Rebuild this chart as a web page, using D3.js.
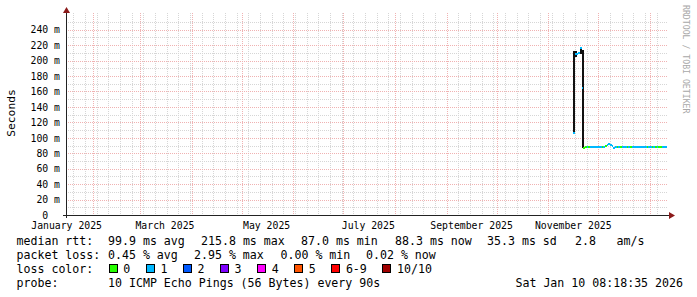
<!DOCTYPE html>
<html>
<head>
<meta charset="utf-8">
<script src="https://cdn.jsdelivr.net/npm/d3@7/dist/d3.min.js"></script>
<style>
  body { margin: 0; background: #fff; }
  svg text { font-family: "DejaVu Sans Mono", monospace; white-space: pre; fill: #000; }
</style>
</head>
<body>
<svg id="chart" width="697" height="297"></svg>
<script>
// time window of the graph (360 days)
const startTime = new Date(Date.UTC(2025, 0, 15, 15));
const endTime = new Date(Date.UTC(2026, 0, 10, 15));

// daily median rtt in ms, first value is 2025-11-16
const firstDay = new Date(Date.UTC(2025, 10, 16));
const medianMs = [106, 209, 208, 210, 215.8, 165, 87.3, 87.6, 87.8, 88.0,
  88.2, 88.2, 88.3, 88.2, 88.3, 88.3, 88.4, 88.3, 88.5, 89.5,
  91.0, 92.0, 90.8, 89.0, 87.0, 88.0, 88.3, 88.3, 88.3, 88.3,
  88.4, 88.3, 88.3, 88.3, 88.2, 88.3, 88.3, 88.3, 88.2, 88.3,
  88.3, 88.3, 88.3, 88.3, 88.3, 88.3, 88.3, 88.2, 88.3, 88.3,
  88.3, 88.1, 88.3, 88.3, 88.0, 88.3];
// lost pings (of 10) for each day
const lossCount = [1, 1, 1, 1, 1, 1, 0, 0, 1, 0,
  1, 1, 1, 1, 1, 1, 1, 0, 1, 0,
  1, 1, 1, 1, 1, 1, 0, 1, 0, 1,
  1, 1, 0, 1, 0, 1, 1, 1, 1, 1,
  1, 1, 1, 1, 0, 1, 1, 0, 1, 0,
  1, 0, 0, 1, 1, 1];
// smoke (ping spread) where it shows, null elsewhere
const smokeLo = [106, 205, null, null, 208, 87];
const smokeHi = [212, 212, null, null, 216, 214];

const yTicks = [0, 20, 40, 60, 80, 100, 120, 140, 160, 180, 200, 220, 240];
const yTickLabels = ["0", "20 m", "40 m", "60 m", "80 m", "100 m", "120 m", "140 m",
  "160 m", "180 m", "200 m", "220 m", "240 m"];
const monthLabels = ["January 2025", "March 2025", "May 2025", "July 2025",
  "September 2025", "November 2025"];

const lossNames = ["0", "1", "2", "3", "4", "5", "6-9", "10/10"];
const lossColors = ["#26ff00", "#00b8ff", "#0059ff", "#7e00ff", "#ff00ff", "#ff5500", "#ff0000", "#a00000"];

const rttLegend = ["median rtt:", "99.9 ms avg", "215.8 ms max", "87.0 ms min", "88.3 ms now", "35.3 ms sd", "2.8", "am/s"];
const lossLegend = ["packet loss:", "0.45 % avg", "2.95 % max", "0.00 % min", "0.02 % now"];
const probeLegend = ["probe:", "10 ICMP Echo Pings (56 Bytes) every 90s"];
const stampText = "Sat Jan 10 08:18:35 2026";
const watermark = "RRDTOOL / TOBI OETIKER";

// layout
const rttX = [16.5, 108, 201, 301, 395, 487, 575, 616.5];
const lossX = [16.5, 108, 194, 280.5, 366];
const charW = 7.0;
const axisCharW = 5.9;

const svg = d3.select("#chart");

const x = d3.scaleUtc().domain([startTime, endTime]).range([66, 666]);
const y = d3.scaleLinear().domain([0, 261.7]).range([215, 13]);
const px = v => Math.round(v) + 0.5;

// grid
const grid = svg.append("g").attr("shape-rendering", "crispEdges")
  .attr("stroke-width", 1).attr("stroke-dasharray", "1,1").attr("fill", "none");

grid.selectAll("line.minh")
  .data(d3.range(10, 261, 20))
  .enter().append("line")
  .attr("x1", 66).attr("x2", 668)
  .attr("y1", d => px(y(d))).attr("y2", d => px(y(d)))
  .attr("stroke", "#d6d6d6");

grid.selectAll("line.minv")
  .data(d3.utcMonday.range(startTime, endTime))
  .enter().append("line")
  .attr("x1", d => px(x(d))).attr("x2", d => px(x(d)))
  .attr("y1", 13).attr("y2", 215)
  .attr("stroke", "#d6d6d6");

grid.selectAll("line.majh")
  .data(yTicks.slice(1))
  .enter().append("line")
  .attr("x1", 66).attr("x2", 668)
  .attr("y1", d => px(y(d))).attr("y2", d => px(y(d)))
  .attr("stroke", "#f0b2b2");

grid.selectAll("line.majv")
  .data(d3.utcMonth.range(startTime, endTime))
  .enter().append("line")
  .attr("x1", d => px(x(d))).attr("x2", d => px(x(d)))
  .attr("y1", 13).attr("y2", 215)
  .attr("stroke", "#f0b2b2");

// data
const days = medianMs.map((v, i) => d3.utcDay.offset(firstDay, i));
const dayW = x(days[1]) - x(days[0]);
const swidth = 261.7 / 200;

const plot = svg.append("g").attr("shape-rendering", "crispEdges");

plot.selectAll("rect.smoke")
  .data(smokeLo.map((lo, i) => ({ day: days[i], lo: lo, hi: smokeHi[i] })).filter(d => d.lo != null))
  .enter().append("rect")
  .attr("x", d => x(d.day))
  .attr("width", Math.max(dayW, 2))
  .attr("y", d => y(d.hi))
  .attr("height", d => y(d.lo) - y(d.hi))
  .attr("fill", "#111");

plot.selectAll("rect.median")
  .data(medianMs.map((v, i) => ({ day: days[i], v: v, loss: lossCount[i] })))
  .enter().append("rect")
  .attr("x", d => x(d.day))
  .attr("width", dayW)
  .attr("y", d => y(d.v + swidth))
  .attr("height", d => y(d.v - swidth) - y(d.v + swidth))
  .attr("fill", d => lossColors[d.loss]);

// axes
const axes = svg.append("g").attr("shape-rendering", "crispEdges");
axes.append("line").attr("x1", 63).attr("x2", 670).attr("y1", 215.5).attr("y2", 215.5)
  .attr("stroke", "#222");
axes.append("line").attr("x1", 66.5).attr("x2", 66.5).attr("y1", 12).attr("y2", 218)
  .attr("stroke", "#222");
svg.append("path").attr("d", "M669,212 L675,215.5 L669,219 Z").attr("fill", "#8b1a1a");
svg.append("path").attr("d", "M63,13 L66.5,7 L70,13 Z").attr("fill", "#8b1a1a");

// y tick labels
svg.selectAll("text.ylab")
  .data(yTicks)
  .enter().append("text")
  .attr("font-size", "9.8px")
  .attr("x", (d, i) => {
    const s = yTickLabels[i].includes("m") ? yTickLabels[i] : yTickLabels[i] + "  ";
    return 60 - s.length * axisCharW;
  })
  .attr("y", d => y(d) + 3.7)
  .text((d, i) => yTickLabels[i]);

// month labels, centred half a month after month start
const parseMonth = d3.utcParse("%B %Y");
svg.selectAll("text.xlab")
  .data(monthLabels)
  .enter().append("text")
  .attr("font-size", "9.8px")
  .attr("text-anchor", "middle")
  .attr("x", d => x(d3.utcDay.offset(parseMonth(d), 15)))
  .attr("y", 228.5)
  .text(d => d);

svg.append("text")
  .attr("font-size", "11.3px")
  .attr("text-anchor", "middle")
  .attr("transform", "translate(15,113) rotate(-90)")
  .text("Seconds");

svg.append("text")
  .attr("font-size", "8.2px")
  .style("fill", "#a8a8a8")
  .attr("transform", "translate(683,5) rotate(90)")
  .text(watermark);

// legend
const legend = svg.append("g").attr("font-size", "11.6px");

legend.selectAll("text.rtt")
  .data(rttLegend)
  .enter().append("text")
  .attr("x", (d, i) => rttX[i]).attr("y", 245)
  .text(d => d);

legend.selectAll("text.loss")
  .data(lossLegend)
  .enter().append("text")
  .attr("x", (d, i) => lossX[i]).attr("y", 259)
  .text(d => d);

legend.append("text").attr("x", 16.5).attr("y", 273).text("loss color:");

let bx = 108.5;
lossNames.forEach((name, i) => {
  legend.append("rect")
    .attr("x", Math.round(bx) + 0.5).attr("y", 264.5)
    .attr("width", 8).attr("height", 8)
    .attr("fill", lossColors[i]).attr("stroke", "#000")
    .attr("shape-rendering", "crispEdges");
  const lx = bx + 14.8;
  legend.append("text").attr("x", lx).attr("y", 273).text(name);
  bx = lx + name.length * charW + 15.3;
});

legend.selectAll("text.probe")
  .data(probeLegend)
  .enter().append("text")
  .attr("x", (d, i) => i === 0 ? 16.5 : 108).attr("y", 287)
  .text(d => d);

legend.append("text")
  .attr("x", 683).attr("y", 287)
  .attr("text-anchor", "end")
  .text(stampText);
</script>
</body>
</html>
